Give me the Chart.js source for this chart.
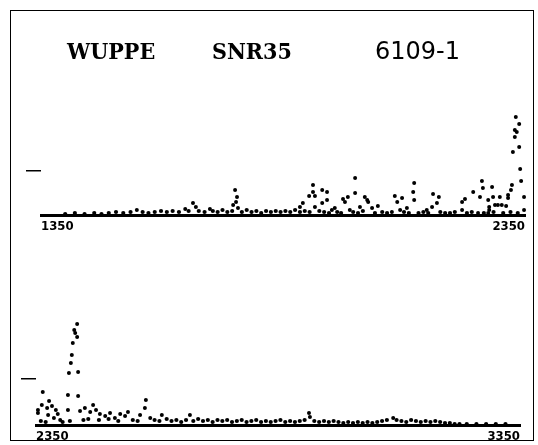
<!DOCTYPE html>
<html>
<head>
<meta charset="utf-8">
<script src="https://cdn.jsdelivr.net/npm/chart.js@4.4.1/dist/chart.umd.min.js"></script>
<style>
  html, body { margin: 0; padding: 0; background: #fff; }
  #wrap { position: relative; width: 538px; height: 445px; overflow: hidden; background: #fff; }
  canvas { position: absolute; left: 0; top: 0; }
  #frame { position: absolute; left: 10px; top: 10px; width: 524px; height: 431px; border: 1.5px solid #000; box-sizing: border-box; }
  .ttl { position: absolute; top: 39px; line-height: 24px; color: #000; white-space: nowrap; }
  .serif { font-family: "DejaVu Serif Condensed", "DejaVu Serif", serif; font-weight: bold; font-size: 23px; }
  .sans { font-family: "DejaVu Sans", sans-serif; font-size: 24px; font-weight: normal; }
</style>
</head>
<body>
<div id="wrap">
  <div id="frame"></div>
  <canvas id="c1" width="538" height="445"></canvas>
  <canvas id="c2" width="538" height="445"></canvas>
  <div class="ttl serif" style="left:67px">WUPPE</div>
  <div class="ttl serif" style="left:212px">SNR35</div>
  <div class="ttl sans" style="left:375px">6109-1</div>
</div>
<script>
// ---- Panel 1 (1350 - 2350) ----
const xTicks1 = [1350, 2350];
const yTick1 = [44];
// scattered points
const p1X = [2331, 2338, 2329, 2333, 2329, 2338, 2325, 2340, 2342, 2348, 2348, 2323, 2321, 2315, 2315,
  2261, 2263, 2282, 2243, 2257, 2274, 2284, 2298, 2294, 2288, 2302, 2311, 2276, 2276, 2274,
  2226, 2220, 2220, 2253, 2160, 2172, 2168, 2158, 2147, 2121, 2119, 2121, 2106, 2096, 2092,
  2086, 2081, 2075, 2046, 2034, 2026, 2019, 2024, 2009, 1999, 1999, 1988, 1984, 1978, 1974,
  1957, 1951, 1941, 1941, 1931, 1931, 1916, 1916, 1912, 1912, 1904, 1891, 1885,
  1751, 1755, 1753, 1747, 1757, 1548, 1664, 1670, 1699, 1648];
const p1Y = [98, 91, 85, 83, 78, 68, 63, 46, 34, 18, 5, 30, 25, 20, 17,
  34, 27, 28, 23, 18, 15, 18, 18, 10, 10, 10, 9, 8, 5, 2,
  16, 13, 5, 2, 21, 18, 12, 8, 5, 32, 23, 15, 7, 17, 5,
  13, 19, 3, 9, 7, 13, 18, 15, 8, 22, 37, 5, 18, 13, 16,
  7, 5, 23, 15, 25, 12, 19, 8, 30, 23, 19, 12, 8,
  25, 18, 13, 10, 7, 5, 12, 8, 6, 6];
// low-level points along the continuum
const p1LowX = [1400, 1420, 1440, 1460, 1475, 1490, 1505, 1520, 1535, 1560, 1572, 1585, 1598, 1610, 1622,
  1635, 1655, 1676, 1688, 1705, 1715, 1725, 1735, 1745, 1765, 1775, 1785, 1795, 1805, 1815, 1825,
  1835, 1845, 1855, 1865, 1875, 1885, 1895, 1905, 1925, 1935, 1945, 1962, 1970, 1995, 2005, 2015,
  2040, 2055, 2065, 2100, 2110, 2130, 2140, 2150, 2175, 2185, 2195, 2205, 2230, 2240, 2265, 2285,
  2305, 2320, 2335];
const p1LowY = [1, 2, 1, 2, 1, 2, 3, 2, 3, 3, 2, 3, 4, 3, 4,
  3, 4, 4, 3, 4, 3, 5, 3, 4, 3, 5, 3, 4, 2, 4, 3,
  4, 3, 4, 3, 5, 3, 4, 3, 4, 3, 2, 3, 2, 3, 2, 4,
  2, 3, 2, 3, 2, 2, 3, 2, 3, 2, 2, 3, 2, 3, 2, 3,
  2, 3, 2];

// ---- Panel 2 (2350 - 3350) ----
const xTicks2 = [2350, 3350];
const yTick2 = [46];
const p2X = [2435, 2429, 2431, 2435, 2426, 2424, 2422, 2418, 2437, 2416, 2437,
  2364, 2377, 2362, 2354, 2354, 2373, 2383, 2391, 2375, 2387, 2395, 2416, 2400,
  2441, 2451, 2462, 2468, 2474, 2482, 2493, 2503, 2513, 2524, 2534, 2540,
  2577, 2575, 2565, 2586, 2610, 2668, 2914, 2916, 3088];
const p2Y = [101, 95, 92, 88, 82, 70, 62, 52, 53, 30, 29,
  33, 24, 20, 15, 12, 17, 19, 15, 10, 7, 11, 15, 5,
  14, 17, 13, 20, 15, 11, 9, 12, 7, 11, 9, 13,
  25, 17, 10, 7, 10, 10, 12, 8, 7];
const p2LowX = [2360, 2370, 2405, 2420, 2448, 2458, 2480, 2500, 2520, 2550, 2560, 2595, 2605, 2620,
  2630, 2640, 2650, 2660, 2675, 2685, 2695, 2705, 2715, 2725, 2735, 2745, 2755, 2765, 2775, 2785,
  2795, 2805, 2815, 2825, 2835, 2845, 2855, 2865, 2875, 2885, 2895, 2905, 2925, 2935, 2945, 2955,
  2965, 2975, 2985, 2995, 3005, 3015, 3025, 3035, 3045, 3055, 3065, 3075, 3095, 3105, 3115, 3125,
  3135, 3145, 3155, 3165, 3175, 3185, 3195, 3205, 3215, 3225, 3240, 3260, 3280, 3300, 3320];
const p2LowY = [4, 3, 3, 4, 5, 6, 5, 6, 4, 5, 4, 5, 4, 6,
  4, 5, 3, 5, 4, 6, 4, 5, 3, 5, 4, 5, 3, 4, 5, 3,
  4, 5, 3, 4, 3, 4, 5, 3, 4, 3, 4, 5, 4, 3, 4, 3,
  4, 3, 2, 3, 2, 3, 2, 3, 2, 3, 4, 5, 5, 4, 3, 5,
  4, 3, 4, 3, 4, 3, 2, 2, 1, 1, 1, 1, 1, 1, 1];

function pts(xs, ys) { return xs.map((x, i) => ({ x: x, y: ys[i] })); }

function makeChart(id, xs, ys, lx, ly, xTicks, yTicks, pad) {
  return new Chart(document.getElementById(id), {
    type: 'scatter',
    data: {
      datasets: [
        { data: pts(lx, ly), pointRadius: 2.1, pointBackgroundColor: '#000', pointBorderWidth: 0, clip: false },
        { data: pts(xs, ys), pointRadius: 2.0, pointBackgroundColor: '#000', pointBorderWidth: 0, clip: false }
      ]
    },
    options: {
      responsive: false,
      animation: false,
      devicePixelRatio: 1,
      events: [],
      layout: { padding: pad },
      plugins: { legend: { display: false }, tooltip: { enabled: false }, title: { display: false } },
      scales: {
        x: {
          type: 'linear',
          min: xTicks[0], max: xTicks[1],
          afterBuildTicks: (s) => { s.ticks = xTicks.map(v => ({ value: v })); },
          afterFit: (s) => { s.height = 18; },
          grid: { display: false, drawTicks: false },
          border: { display: true, color: '#000', width: 3 },
          ticks: {
            align: 'inner', padding: 4, color: '#000', maxRotation: 0, autoSkip: false,
            font: { family: '"DejaVu Sans Condensed", "DejaVu Sans", sans-serif', size: 13, weight: 'bold' },
            callback: (v) => String(v)
          }
        },
        y: {
          type: 'linear', min: 0, max: 125,
          afterBuildTicks: (s) => { s.ticks = yTicks.map(v => ({ value: v })); },
          afterFit: (s) => { s.width = 16; },
          grid: { display: true, drawOnChartArea: false, drawTicks: true, tickLength: 15, color: '#000', lineWidth: 1.5 },
          border: { display: false },
          ticks: { display: false }
        }
      }
    }
  });
}

makeChart('c1', p1X, p1Y, p1LowX, p1LowY, xTicks1, yTick1, { left: 25, right: 13, top: 90, bottom: 212 });
makeChart('c2', p2X, p2Y, p2LowX, p2LowY, xTicks2, yTick2, { left: 20, right: 18, top: 300, bottom: 2 });
</script>
</body>
</html>
